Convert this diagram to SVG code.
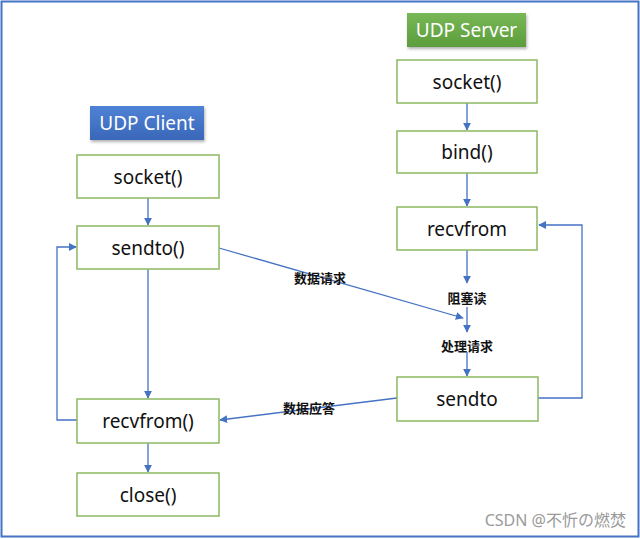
<svg xmlns="http://www.w3.org/2000/svg" width="640" height="539" viewBox="0 0 640 539">
<defs>
<linearGradient id="gGreen" x1="0" y1="0" x2="0" y2="1"><stop offset="0" stop-color="#78b756"/><stop offset="1" stop-color="#5c9d3c"/></linearGradient>
<linearGradient id="gBlue" x1="0" y1="0" x2="0" y2="1"><stop offset="0" stop-color="#4f82d6"/><stop offset="1" stop-color="#3a67b8"/></linearGradient>
<marker id="arr" viewBox="0 0 10 10" refX="9" refY="5" markerWidth="8" markerHeight="8" markerUnits="userSpaceOnUse" orient="auto"><path d="M0,0 L10,5 L0,10 z" fill="#4472c4"/></marker>
<filter id="sh" x="-10%" y="-10%" width="130%" height="140%"><feDropShadow dx="1" dy="2" stdDeviation="1.5" flood-color="#000" flood-opacity="0.3"/></filter>
</defs>
<style>
.box{fill:#fff;stroke:#8cb862;stroke-width:1.5}
.t{font-family:"Noto Sans","Liberation Sans",sans-serif;font-size:19px;fill:#111;text-anchor:middle;dominant-baseline:central}
.h{font-family:"Noto Sans","Liberation Sans",sans-serif;font-size:19px;fill:#fff;text-anchor:middle;dominant-baseline:central}
.c{fill:none;stroke:#4472c4;stroke-width:1.3}
.lb{font-family:"Noto Sans CJK SC",sans-serif;font-size:13px;font-weight:bold;fill:#111;text-anchor:middle;dominant-baseline:central}
</style>
<rect x="1.5" y="1.5" width="637" height="535" fill="#fff" stroke="#4472c4" stroke-width="2"/>
<g id="connectors">
<path class="c" d="M148,198 V225" marker-end="url(#arr)"/>
<path class="c" d="M148,269 V398" marker-end="url(#arr)"/>
<path class="c" d="M148,443 V472" marker-end="url(#arr)"/>
<path class="c" d="M77,420 H57 V247 H76" marker-end="url(#arr)"/>
<path class="c" d="M467,103 V130" marker-end="url(#arr)"/>
<path class="c" d="M467,173 V206" marker-end="url(#arr)"/>
<path class="c" d="M467,250 V283" marker-end="url(#arr)"/>
<path class="c" d="M467,307 V332" marker-end="url(#arr)"/>
<path class="c" d="M467,352 V376" marker-end="url(#arr)"/>
<path class="c" d="M219,248 L463,318" marker-end="url(#arr)"/>
<path class="c" d="M397,398 L220,420" marker-end="url(#arr)"/>
<path class="c" d="M538,398 H582 V225 H539" marker-end="url(#arr)"/>
<text class="lb" x="320" y="277">数据请求</text>
<text class="lb" x="467" y="297">阻塞读</text>
<text class="lb" x="467" y="345">处理请求</text>
<text class="lb" x="309" y="407">数据应答</text>
</g>
<g id="server-label"><rect x="407" y="13" width="119" height="34" fill="url(#gGreen)" filter="url(#sh)"/><text class="h" x="466.5" y="30">UDP Server</text></g>
<g id="client-label"><rect x="90" y="106" width="114" height="34" fill="url(#gBlue)" filter="url(#sh)"/><text class="h" x="147" y="123">UDP Client</text></g>
<g id="s-socket"><rect class="box" x="397" y="60" width="140" height="43"/><text class="t" x="467" y="81.5">socket()</text></g>
<g id="s-bind"><rect class="box" x="397" y="131" width="140" height="42"/><text class="t" x="467" y="152">bind()</text></g>
<g id="s-recvfrom"><rect class="box" x="397" y="207" width="140" height="43"/><text class="t" x="467" y="228.5">recvfrom</text></g>
<g id="s-sendto"><rect class="box" x="397" y="377" width="141" height="44"/><text class="t" x="467" y="399">sendto</text></g>
<g id="c-socket"><rect class="box" x="77" y="155" width="142" height="43"/><text class="t" x="148" y="176.5">socket()</text></g>
<g id="c-sendto"><rect class="box" x="77" y="226" width="142" height="43"/><text class="t" x="148" y="247.5">sendto()</text></g>
<g id="c-recvfrom"><rect class="box" x="77" y="399" width="142" height="44"/><text class="t" x="148" y="421">recvfrom()</text></g>
<g id="c-close"><rect class="box" x="77" y="473" width="142" height="43"/><text class="t" x="148" y="494.5">close()</text></g>
<text x="626" y="520" font-family="'Noto Sans','Noto Sans CJK SC',sans-serif" font-size="16" fill="#9a9a9a" text-anchor="end" dominant-baseline="central">CSDN @不忻の燃焚</text>
</svg>
